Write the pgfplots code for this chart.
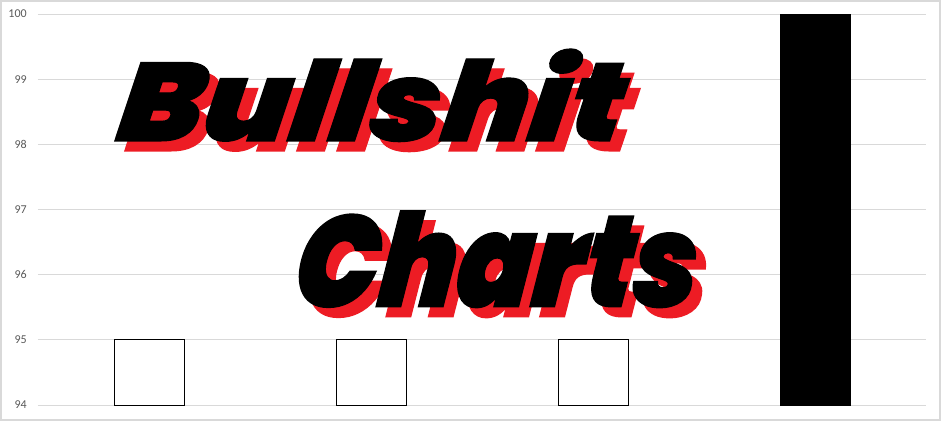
\documentclass[border=0pt]{standalone}
\usepackage{fontspec}
\usepackage{graphicx}
\usepackage{pgfplots}
\pgfplotsset{compat=1.18}
\setmainfont{Carlito}
\newfontfamily\bsfont{Poppins Black Italic}[FakeSlant=0.12, FakeBold=1]

\definecolor{gridgray}{HTML}{D9D9D9}
\definecolor{tickgray}{HTML}{595959}
\definecolor{shadowred}{HTML}{ED1C24}

\begin{document}
\begin{tikzpicture}
% whole picture: 941 x 421 px, 1 px = 0.75pt, axis box from (38,405) to (926,14)
\useasboundingbox (-28.5pt,-12pt) rectangle (677.25pt,303.75pt);
\fill[white] (-28.5pt,-12pt) rectangle (677.25pt,303.75pt);
\draw[gridgray, line width=1.5pt] (-27.75pt,-11.25pt) rectangle (676.5pt,303pt);

\begin{axis}[
    at={(0,0)}, anchor=south west,
    scale only axis,
    width=666pt, height=293.25pt,
    xmin=-0.5, xmax=3.5,
    ymin=94, ymax=100,
    ytick={94,95,96,97,98,99,100},
    xtick=\empty,
    ymajorgrids,
    grid style={gridgray, line width=0.75pt},
    axis line style={draw=none},
    major tick length=0pt,
    /pgf/number format/assume math mode=true,
    yticklabel style={font=\fontsize{9}{10}\selectfont, color=tickgray,
        inner sep=0pt, anchor=east, xshift=-8.25pt},
    ybar, bar width=52.5pt, bar shift=0pt,
]
\addplot[draw=black, fill=white, line width=0.75pt] coordinates {(0,95) (1,95) (2,95)};
\addplot[draw=black, fill=black] coordinates {(3,100)};
\end{axis}

% title text with red shadow (pixel positions converted to pt from axis origin)
\node[shadowred, anchor=south, inner sep=0pt] at ({(367.5-38+10)*0.75pt},{(405-142-10)*0.75pt})
    {\resizebox{378.75pt}{69pt}{\bsfont Bullshit}};
\node[black, anchor=south, inner sep=0pt] at ({(367.5-38)*0.75pt},{(405-142)*0.75pt})
    {\resizebox{378.75pt}{69pt}{\bsfont Bullshit}};
\node[shadowred, anchor=south, inner sep=0pt] at ({(493.5-38+10)*0.75pt},{(405-308-10)*0.75pt})
    {\resizebox{302.25pt}{72pt}{\bsfont Charts}};
\node[black, anchor=south, inner sep=0pt] at ({(493.5-38)*0.75pt},{(405-308)*0.75pt})
    {\resizebox{302.25pt}{72pt}{\bsfont Charts}};
\end{tikzpicture}
\end{document}
